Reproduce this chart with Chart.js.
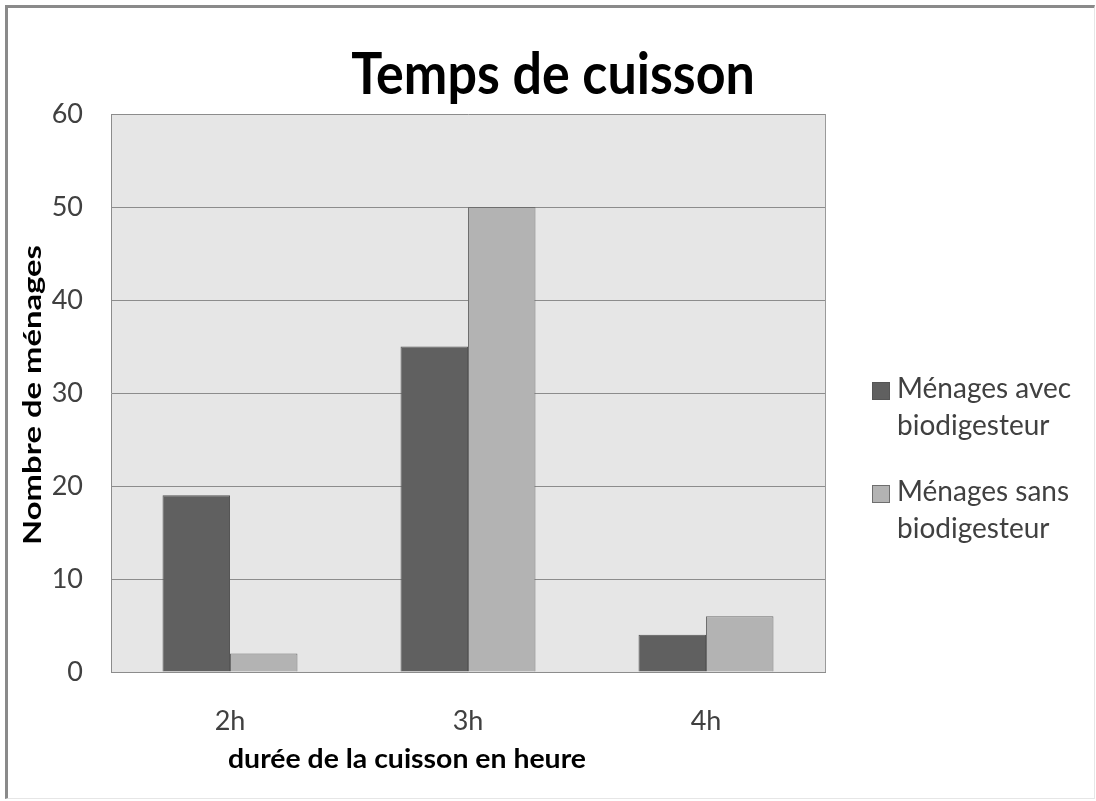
<!DOCTYPE html>
<html><head><meta charset="utf-8">
<script src="https://cdn.jsdelivr.net/npm/chart.js@4/dist/chart.umd.min.js"></script>
<style>
html,body{margin:0;padding:0;background:#fff;}
#wrap{position:absolute;left:0;top:0;width:1096px;height:801px;}
#frame{position:absolute;left:5px;top:5px;width:1090px;height:794px;border-top:3px solid #8a8a8a;border-left:3px solid #8a8a8a;border-right:1px solid #e6e6e6;border-bottom:1px solid #e6e6e6;box-sizing:border-box;pointer-events:none;}
canvas{position:absolute;left:0;top:0;}
</style></head><body>
<div id="wrap"><canvas id="c" width="1096" height="801"></canvas><div id="frame"></div></div>
<script>
const categories = ['2h', '3h', '4h'];
const avecValues = [19, 35, 4];
const sansValues = [2, 50, 6];
const seriesNames = ['Ménages avec biodigesteur', 'Ménages sans biodigesteur'];
const legendLines = [['Ménages avec', 'biodigesteur'], ['Ménages sans', 'biodigesteur']];
const yTickMin = 0, yTickMax = 60, yTickStep = 10;
const chartTitle = 'Temps de cuisson';
const xAxisTitle = 'durée de la cuisson en heure';
const yAxisTitle = 'Nombre de ménages';

const FONT = 'Lato';
const TXT = '#404040';

const decor = {
  id: 'decor',
  beforeDraw(chart) {
    const {ctx, chartArea: a} = chart;
    ctx.save();
    ctx.fillStyle = '#e6e6e6';
    ctx.fillRect(a.left, a.top, a.right - a.left, a.bottom - a.top);
    ctx.restore();
  },
  afterDraw(chart) {
    const {ctx, chartArea: a} = chart;
    ctx.save();
    ctx.strokeStyle = '#9a9a9a'; ctx.lineWidth = 1;
    ctx.beginPath(); ctx.moveTo(a.right + 0.5, a.top); ctx.lineTo(a.right + 0.5, a.bottom); ctx.stroke();
    // chart title
    ctx.fillStyle = '#000';
    ctx.textAlign = 'center'; ctx.textBaseline = 'alphabetic';
    ctx.font = 'bold 52px ' + FONT;
    ctx.save(); ctx.translate(553, 94); ctx.scale(1, 1.12); ctx.fillText(chartTitle, 0, 0); ctx.restore();
    // x axis title
    ctx.font = 'bold 26px ' + FONT;
    ctx.save(); ctx.translate(407, 768);
    const wx = ctx.measureText(xAxisTitle).width;
    ctx.scale(358 / wx, 1);
    ctx.fillText(xAxisTitle, 0, 0); ctx.restore();
    // y axis title
    ctx.font = 'bold 25px ' + FONT;
    ctx.save(); ctx.translate(41, 395); ctx.rotate(-Math.PI / 2);
    const w = ctx.measureText(yAxisTitle).width;
    ctx.scale(300 / w, 1);
    ctx.fillText(yAxisTitle, 0, 0); ctx.restore();
    // legend
    ctx.textAlign = 'left';
    ctx.font = '28px ' + FONT;
    const tops = [382, 485];
    chart.data.datasets.forEach((ds, i) => {
      const t = tops[i];
      ctx.fillStyle = ds.backgroundColor;
      ctx.fillRect(872, t, 18, 18);
      ctx.strokeStyle = ds.borderColor; ctx.lineWidth = 1;
      ctx.strokeRect(872.5, t + 0.5, 17, 17);
      ctx.fillStyle = TXT;
      legendLines[i].forEach((ln, j) => {
        ctx.save(); ctx.translate(897, t + 16 + j * 37); ctx.scale(1, 1.06); ctx.fillText(ln, 0, 0); ctx.restore();
      });
    });
    ctx.restore();
  }
};

new Chart(document.getElementById('c'), {
  type: 'bar',
  data: {
    labels: categories,
    datasets: [
      {label: seriesNames[0], data: avecValues, backgroundColor: '#606060', borderColor: '#555555', borderWidth: 1,
       categoryPercentage: 0.567, barPercentage: 1},
      {label: seriesNames[1], data: sansValues, backgroundColor: '#b3b3b3', borderColor: '#6e6e6e', borderWidth: 1,
       categoryPercentage: 0.567, barPercentage: 1}
    ]
  },
  options: {
    responsive: false,
    animation: false,
    devicePixelRatio: 1,
    layout: {padding: {left: 0, right: 271, top: 114, bottom: 0}},
    plugins: {legend: {display: false}, title: {display: false}, tooltip: {enabled: false}},
    scales: {
      x: {
        grid: {display: false, drawTicks: false},
        border: {display: true, color: '#8c8c8c', width: 1},
        ticks: {font: {family: FONT, size: 27}, color: TXT, padding: 33},
        afterFit(s) { s.height = 129; }
      },
      y: {
        min: yTickMin, max: yTickMax,
        ticks: {stepSize: yTickStep, font: {family: FONT, size: 27}, color: TXT, padding: 28},
        grid: {color: '#8c8c8c', lineWidth: 1, drawTicks: false},
        border: {display: true, color: '#8c8c8c', width: 1},
        afterFit(s) { s.width = 111; }
      }
    }
  },
  plugins: [decor]
});
</script>
</body></html>
